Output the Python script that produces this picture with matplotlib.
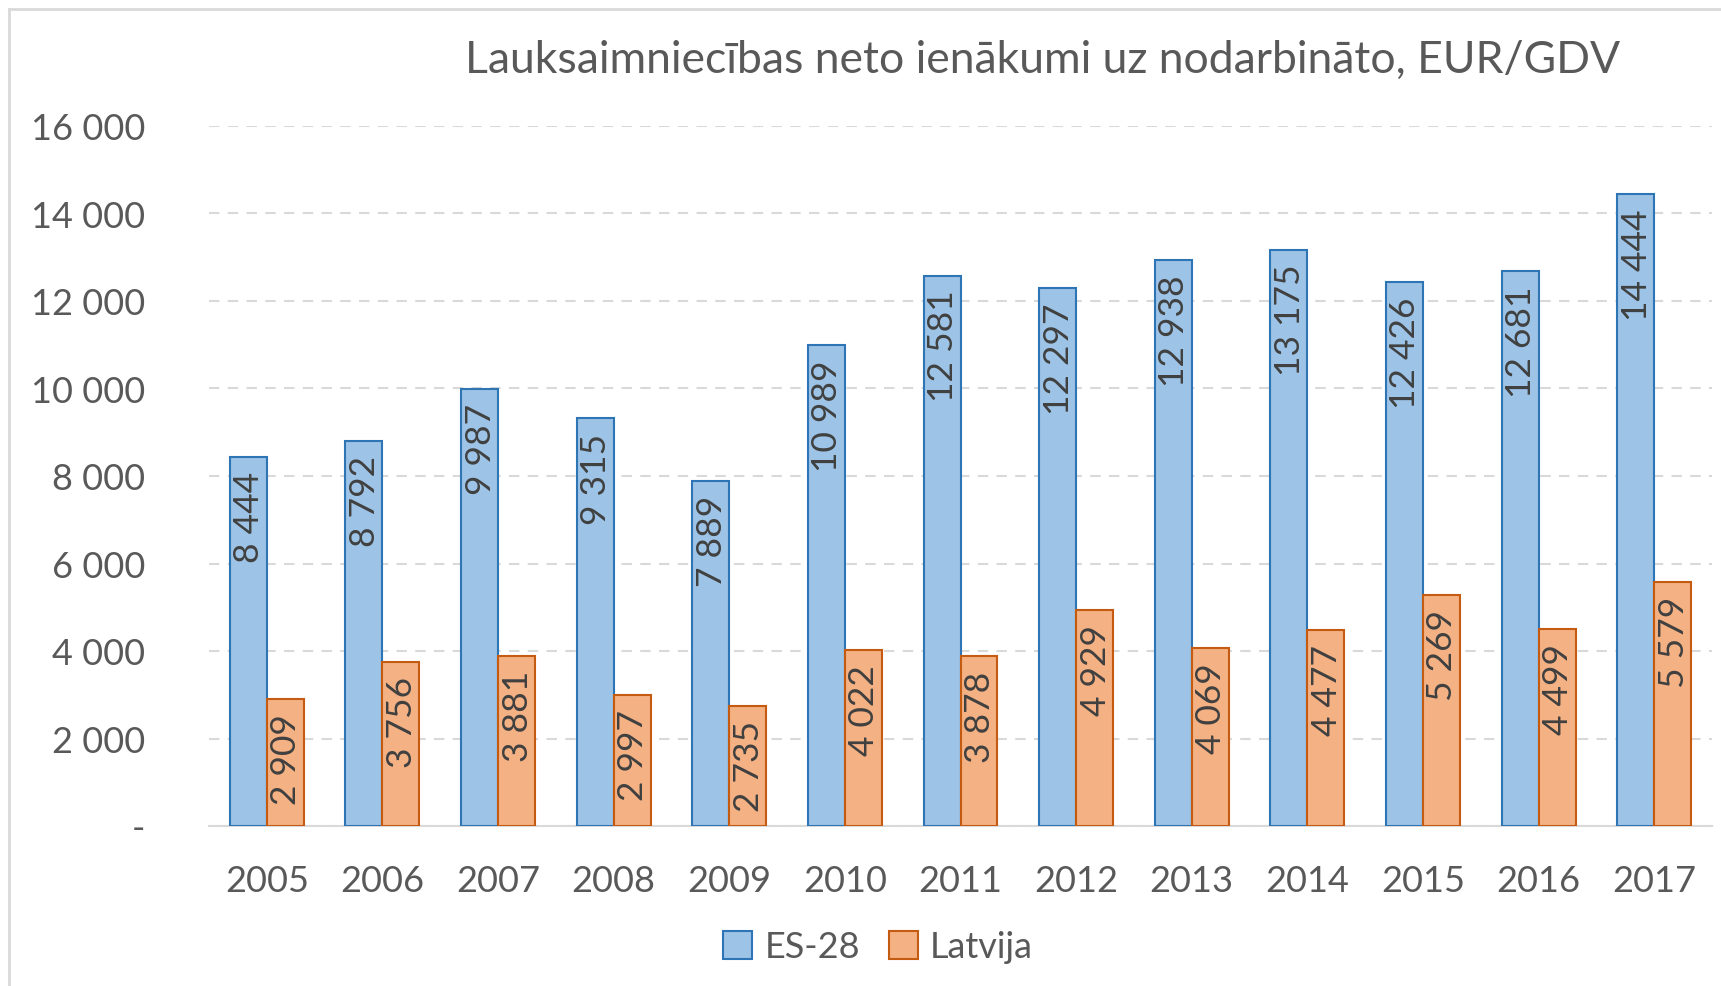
"""Grouped bar chart: farm net income per worker, EU-28 vs Latvia"""

import matplotlib.pyplot as plt
import numpy as np

# chart data
years = ["2005", "2006", "2007", "2008", "2009", "2010", "2011",
         "2012", "2013", "2014", "2015", "2016", "2017"]
es28 = [8444, 8792, 9987, 9315, 7889, 10989, 12581,
        12297, 12938, 13175, 12426, 12681, 14444]
latvija = [2909, 3756, 3881, 2997, 2735, 4022, 3878,
           4929, 4069, 4477, 5269, 4499, 5579]
series_names = ["ES-28", "Latvija"]
title = "Lauksaimniecības neto ienākumi uz nodarbināto, EUR/GDV"

plt.rcParams['font.family'] = ['Lato', 'DejaVu Sans']

fig = plt.figure(figsize=(17.21, 9.87), dpi=100)
ax = fig.add_axes([209 / 1721, 1 - 827 / 987, (1712 - 209) / 1721, (827 - 127) / 987])

x = np.arange(len(years))
w = 0.32
blue_bars = ax.bar(x - w / 2, es28, w, color="#9DC3E6", edgecolor="#2E75B6",
                   linewidth=1.5, label=series_names[0], zorder=3)
orange_bars = ax.bar(x + w / 2, latvija, w, color="#F4B183", edgecolor="#C55A11",
                     linewidth=1.5, label=series_names[1], zorder=3)

# value labels, rotated, inside the top of each bar
for bars, vals in [(blue_bars, es28), (orange_bars, latvija)]:
    for b, v in zip(bars, vals):
        ax.annotate(f"{v:,}".replace(",", " "),
                    (b.get_x() + b.get_width() / 2, v),
                    xytext=(1, -14), textcoords="offset pixels",
                    rotation=90, ha="center", va="top",
                    fontsize=25.5, color="#404040", zorder=4)

ax.set_xlim(-0.5, len(years) - 0.5)
ax.set_ylim(0, 16000)
ax.set_yticks(range(0, 16001, 2000))
ax.set_yticklabels(["-"] + [f"{v:,}".replace(",", " ") for v in range(2000, 16001, 2000)])
ax.set_xticks(x)
ax.set_xticklabels(years)
ax.tick_params(axis="both", length=0, labelsize=26, labelcolor="#595959")
ax.tick_params(axis="x", pad=27)
ax.tick_params(axis="y", pad=46)

ax.yaxis.grid(True, color="#D9D9D9", linestyle=(0, (5, 4)), linewidth=1.5)
ax.set_axisbelow(True)
for side in ["top", "right", "left"]:
    ax.spines[side].set_visible(False)
ax.spines["bottom"].set_color("#D9D9D9")
ax.spines["bottom"].set_linewidth(1.5)

fig.text(1043 / 1721, 1 - 60 / 987, title, ha="center", va="center",
         fontsize=32, color="#595959")

fig.legend(handles=[blue_bars, orange_bars], loc="center",
           bbox_to_anchor=(878 / 1721, 1 - 948 / 987), ncol=2, frameon=False,
           fontsize=26, labelcolor="#595959", handlelength=0.8, handleheight=0.8,
           handletextpad=0.35, columnspacing=0.8)

# light outer border (left and top visible in the original)
fig.add_artist(plt.Line2D([9 / 1721, 9 / 1721], [0, 1 - 10 / 987],
                          transform=fig.transFigure, color="#D9D9D9", linewidth=2))
fig.add_artist(plt.Line2D([9 / 1721, 1], [1 - 10 / 987, 1 - 10 / 987],
                          transform=fig.transFigure, color="#D9D9D9", linewidth=2))

fig.savefig("out.png", dpi=100)
